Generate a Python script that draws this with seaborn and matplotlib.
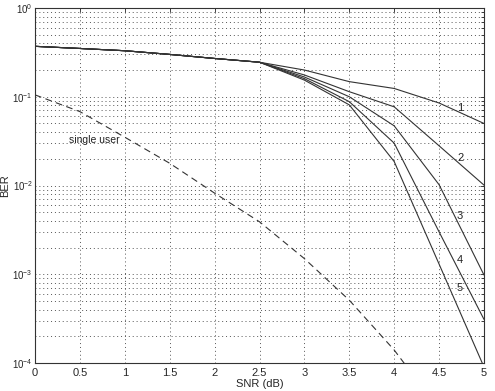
import numpy as np
import pandas as pd
import matplotlib
matplotlib.use("Agg")
import matplotlib.pyplot as plt
import seaborn as sns
from matplotlib.ticker import LogLocator, NullFormatter

snr = [0, 0.5, 1, 1.5, 2, 2.5, 3, 3.5, 4, 4.5, 5]
ber_1 = [0.37, 0.35, 0.33, 0.30, 0.27, 0.245, 0.20, 0.148, 0.124, 0.085, 0.050]
ber_2 = [0.37, 0.35, 0.33, 0.30, 0.27, 0.245, 0.176, 0.114, 0.077, 0.028, 0.0101]
ber_3 = [0.37, 0.35, 0.33, 0.30, 0.27, 0.245, 0.167, 0.100, 0.047, 0.0102, 0.00098]
ber_4 = [0.37, 0.35, 0.33, 0.30, 0.27, 0.245, 0.160, 0.088, 0.030, 0.0030, 0.00031]
ber_5 = [0.37, 0.35, 0.33, 0.30, 0.27, 0.245, 0.154, 0.081, 0.0186, 0.0013, 0.00009]
single_snr = [0, 0.5, 1, 1.5, 2, 2.5, 3, 3.5, 4, 4.5]
single_ber = [0.105, 0.068, 0.035, 0.0178, 0.0082, 0.0039, 0.0015, 0.00051, 0.00014, 0.00003]
curve_labels = ["1", "2", "3", "4", "5"]
label_y = [0.0747, 0.0204, 0.0045, 0.00145, 0.0007]

sns.set_style("white")
plt.rcParams['font.family'] = ['Liberation Sans', 'DejaVu Sans']

fig = plt.figure(figsize=(4.95, 3.91), dpi=100)
ax = fig.add_axes([35/495, 1 - 363/391, (484-35)/495, (363-8)/391])

rows = []
for lab, vals in zip(curve_labels, [ber_1, ber_2, ber_3, ber_4, ber_5]):
    for x, y in zip(snr, vals):
        rows.append({"snr": x, "ber": y, "curve": lab})
df = pd.DataFrame(rows)
sns.lineplot(data=df, x="snr", y="ber", units="curve", estimator=None,
             color="#333333", lw=0.8, ax=ax, legend=False)
sd = pd.DataFrame({"snr": single_snr, "ber": single_ber})
sns.lineplot(data=sd, x="snr", y="ber", color="#333333", lw=0.8, ax=ax, legend=False)
ax.lines[-1].set_dashes([6, 4])

ax.set_yscale("log")
ax.set_xlim(0, 5)
ax.set_ylim(1e-4, 1)
ax.set_xticks(snr)
ax.set_xticklabels(["0", "0.5", "1", "1.5", "2", "2.5", "3", "3.5", "4", "4.5", "5"])
ax.yaxis.set_major_locator(LogLocator(base=10, numticks=10))
ax.yaxis.set_minor_locator(LogLocator(base=10, subs=np.arange(2, 10), numticks=20))
ax.yaxis.set_minor_formatter(NullFormatter())
ax.grid(True, which="major", axis="both", color="#555555", linestyle=(0, (1, 3)), lw=0.7)
ax.grid(True, which="minor", axis="y", color="#555555", linestyle=(0, (1, 3)), lw=0.7)
ax.tick_params(which="both", direction="in", top=True, right=True, labelsize=8, length=3, width=0.6)
ax.tick_params(axis="y", labelsize=7, pad=1.5)
ax.tick_params(which="minor", length=2)
for s in ax.spines.values():
    s.set_linewidth(0.8)
    s.set_color("#333333")
ax.set_xlabel("SNR (dB)", fontsize=8, labelpad=1)
ax.set_ylabel("BER", fontsize=8)
ax.yaxis.set_label_coords(-0.056, 0.5)

for lab, yv in zip(curve_labels, label_y):
    ax.text(4.70, yv, lab, fontsize=8, ha="left", va="center", color="#222222")
ax.text(0.38, 0.0326, "single user", fontsize=7.5, ha="left", va="center", color="#222222")

fig.savefig("out.png", dpi=100)
